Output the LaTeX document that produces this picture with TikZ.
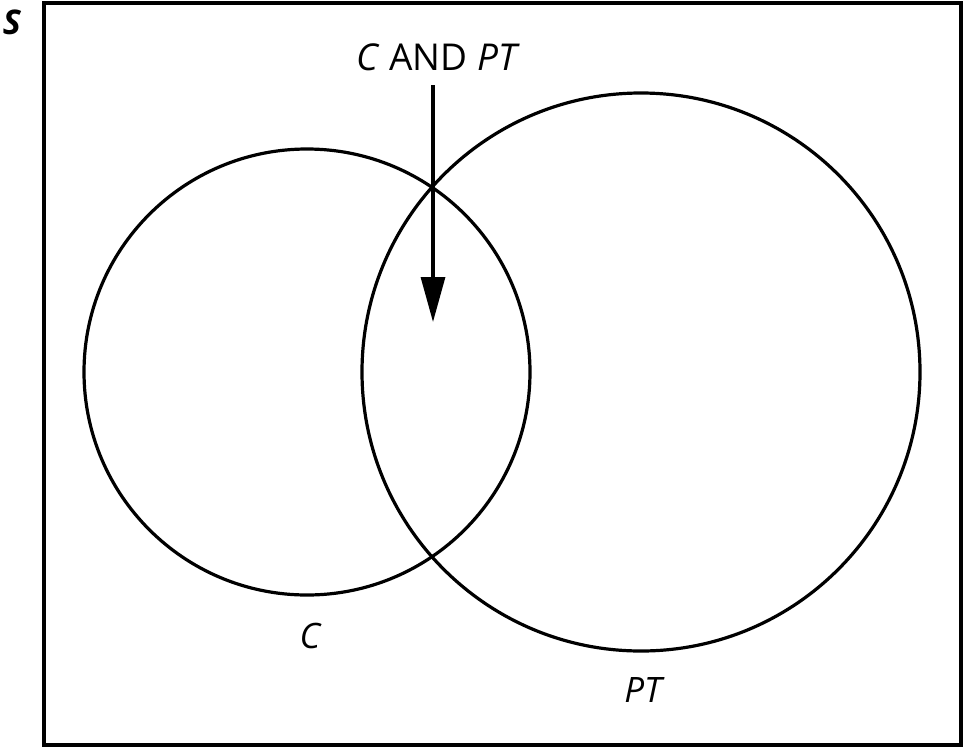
\documentclass[tikz,border=0pt]{standalone}
\usepackage{fontspec}
\setmainfont{Open Sans}
\usetikzlibrary{arrows.meta,positioning}
\tikzset{every picture/.style={line width=3.2pt}}
\tikzset{
  setcircle/.style={draw,circle,inner sep=0pt},
  setlabel/.style={font=\fontsize{35}{40}\selectfont\itshape,inner sep=0pt}
}

\begin{document}
\begin{tikzpicture}[x=1pt,y=-1pt]
    \useasboundingbox (0,0) rectangle (964,748);
    % 样本空间
    \draw (44,3) rectangle (961,745);
    \node[font=\fontsize{34}{40}\selectfont\bfseries\itshape,inner sep=0pt] (s) at (12,22) {S};
    % 两个圆
    \node[setcircle,minimum size=446pt] (c) at (307,372) {};
    \node[setcircle,minimum size=558pt] (pt) at (641,372) {};
    \node[setlabel] (clab) at (310,636) {C};
    \node[setlabel] (ptlab) at (643,690) {PT};
    % 交集
    \node[font=\fontsize{37}{42}\selectfont,inner sep=0pt] (both) at (438,57) {\textit{C} AND \textit{PT}};
    \coordinate (tip) at (433,322);
    \draw[-{Triangle[length=45pt,width=24pt]}] ([yshift=-13pt]both.south -| tip) -- (tip);
\end{tikzpicture}
\end{document}
